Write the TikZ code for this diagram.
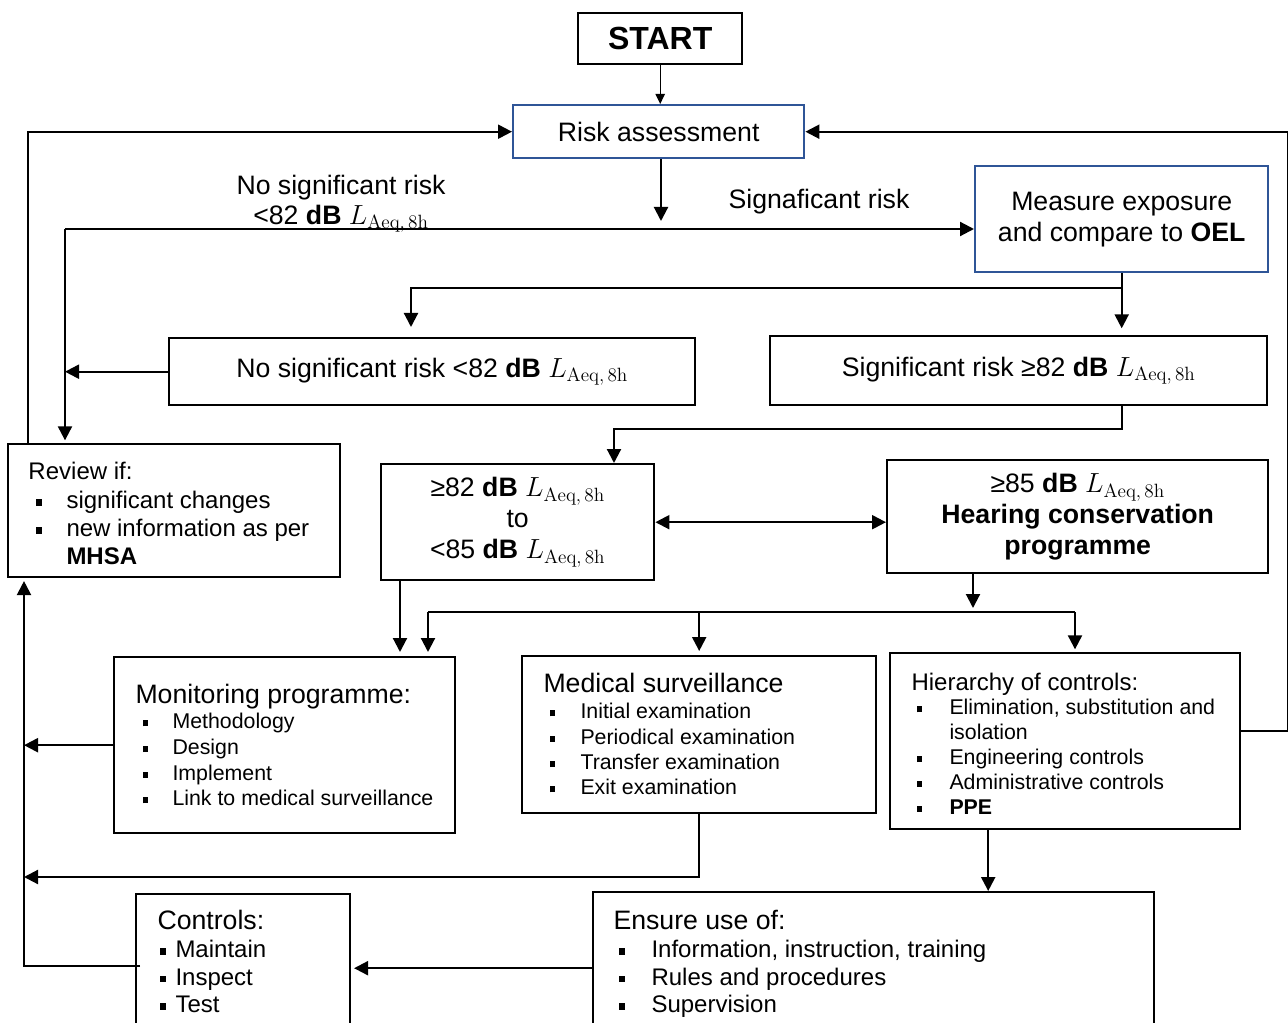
\documentclass[tikz,border=0pt]{standalone}
\usepackage[no-math]{fontspec}
\setmainfont{Liberation Sans}
\usetikzlibrary{arrows.meta}
\definecolor{riskblue}{RGB}{47,85,151}
\newcommand{\laeq}{$L_{\mathrm{Aeq,\,8h}}$}
\newcommand{\sqb}{\raisebox{0.12em}{\rule{0.28em}{0.28em}}}
\newcommand{\itm}[1][23pt]{\makebox[#1][l]{\sqb}}
\newcommand{\fs}[2]{\fontsize{#1}{#2}\selectfont}
\tikzset{every picture/.style={line width=0.75pt}}
\tikzset{
  box/.style={draw, line width=1.8pt, inner sep=0pt, anchor=north west, align=center},
  bluebox/.style={box, draw=riskblue},
  arr/.style={-{Triangle[length=10.5pt,width=10.5pt]}, line width=1.6pt},
  darr/.style={{Triangle[length=10.5pt,width=10.5pt]}-{Triangle[length=10.5pt,width=10.5pt]}, line width=1.6pt},
  txt/.style={inner sep=0pt, align=left, anchor=north west},
  ttl/.style={inner sep=0pt, anchor=base west},
}

\begin{document}
\begin{tikzpicture}[x=0.75pt,y=0.75pt,yscale=-1,xscale=1]
    \useasboundingbox (0,0) rectangle (1288,1023);
    % Boxes
    \node[box, minimum width=123pt, minimum height=38.25pt, font=\fs{24}{28}\bfseries] (start) at (577,12) {START};
    \node[bluebox, minimum width=218.25pt, minimum height=39.75pt, font=\fs{20}{23.25}] (risk) at (512,104) {Risk assessment};
    \node[bluebox, minimum width=219.75pt, minimum height=79.5pt, font=\fs{20}{23.25}] (measure) at (974,165) {Measure exposure\\and compare to \textbf{OEL}};
    \node[box, minimum width=394.5pt, minimum height=50.25pt, font=\fs{20}{23.25}] (nosig) at (168,337) {No significant risk <82 \textbf{dB} \laeq};
    \node[box, minimum width=372.75pt, minimum height=51.75pt, font=\fs{20}{23.25}] (sig) at (769,335) {Significant risk ≥82 \textbf{dB} \laeq};
    \node[box, minimum width=249pt, minimum height=99.75pt] (review) at (7,443) {};
    \node[box, minimum width=204.75pt, minimum height=87pt, font=\fs{20}{23.25}] (mid) at (380,463) {≥82 \textbf{dB} \laeq\\to\\<85 \textbf{dB} \laeq};
    \node[box, minimum width=285.75pt, minimum height=84.75pt, font=\fs{20}{23}] (hcp) at (886,459) {≥85 \textbf{dB} \laeq\\\textbf{Hearing conservation}\\\textbf{programme}};
    \node[box, minimum width=255.75pt, minimum height=132pt] (monit) at (113,656) {};
    \node[box, minimum width=265.5pt, minimum height=117.75pt] (medic) at (521,655) {};
    \node[box, minimum width=262.5pt, minimum height=132pt] (hier) at (889,652) {};
    \node[box, minimum width=420.75pt, minimum height=114pt] (ensure) at (592,891) {};
    \node[box, minimum width=160.5pt, minimum height=108pt] (ctrl) at (135,893) {};
    % Labels
    \node[align=center, inner sep=0pt, font=\fs{20}{22.5}] (lblno) at (341,204) {No significant risk\\<82 \textbf{dB} \laeq};
    \node[inner sep=0pt, font=\fs{20}{23.25}] (lblsig) at (819,202) {Signaficant risk};
    % Box texts
    \node[ttl, font=\fs{18}{21}] (revtitle) at (28,479) {Review if:};
    \node[txt, font=\fs{18}{21}] (revlist) at (35,491) {\itm[23.25pt]significant changes\\\itm[23.25pt]new information as per\\\hspace*{23.25pt}\textbf{MHSA}};
    \node[ttl, font=\fs{20}{23}] (montitle) at (135,703) {Monitoring programme:};
    \node[txt, font=\fs{16}{19.25}] (monlist) at (142,713) {\itm[22.5pt]Methodology\\\itm[22.5pt]Design\\\itm[22.5pt]Implement\\\itm[22.5pt]Link to medical surveillance};
    \node[ttl, font=\fs{20}{23}] (medtitle) at (543,692) {Medical surveillance};
    \node[txt, font=\fs{16}{19}] (medlist) at (549,703) {\itm[23.25pt]Initial examination\\\itm[23.25pt]Periodical examination\\\itm[23.25pt]Transfer examination\\\itm[23.25pt]Exit examination};
    \node[ttl, font=\fs{18}{21}] (hiertitle) at (911,690) {Hierarchy of controls:};
    \node[txt, font=\fs{16}{18.6}] (hierlist) at (916,699) {\itm[24.75pt]Elimination, substitution and\\\hspace*{24.75pt}isolation\\\itm[24.75pt]Engineering controls\\\itm[24.75pt]Administrative controls\\\itm[24.75pt]\textbf{PPE}};
    \node[ttl, font=\fs{20}{23}] (enstitle) at (613,929) {Ensure use of:};
    \node[txt, font=\fs{18}{20.6}] (enslist) at (618,940) {\itm[24.75pt]Information, instruction, training\\\itm[24.75pt]Rules and procedures\\\itm[24.75pt]Supervision};
    \node[ttl, font=\fs{20}{23}] (ctrltitle) at (157,929) {Controls:};
    \node[txt, font=\fs{18}{20.6}] (ctrllist) at (159,940) {\itm[12pt]Maintain\\\itm[12pt]Inspect\\\itm[12pt]Test};
    % Connections
    \coordinate (fork) at (661,229);
    \coordinate (nsplit) at (65,229);
    \coordinate (mbranch) at (411,288);
    \coordinate (sbend) at (614,429);
    \coordinate (dl) at (428,612);
    \coordinate (dr) at (1075,612);
    \coordinate (dist) at (973,612);
    \coordinate (lcol) at (24,877);
    \coordinate (mdown) at ([xshift=15pt]mid.south west);
    \coordinate (hdown) at ([xshift=-57.75pt]hier.south);
    \draw[-{Triangle[length=7.5pt,width=7pt]}, line width=0.9pt] (start.south) -- (start.south |- risk.north);
    \draw[arr] ([xshift=15.75pt]review.north west) |- (risk.west);
    \draw[arr] ([yshift=-7.5pt]hier.east) -- ++(47,0) |- (risk.east);
    \draw[arr, shorten >=6pt] (risk.south -| fork) -- (fork);
    \draw[arr] (nsplit) -- (nsplit -| measure.west);
    \draw[arr, shorten >=2pt] (nsplit) -- (nsplit |- review.north);
    \draw[arr] (nosig.west) -- (nosig.west -| nsplit);
    \draw[arr, shorten >=5pt] (measure.south) -- (measure.south |- sig.north);
    \draw[arr, shorten >=7.5pt] (measure.south |- mbranch) -| (mbranch |- nosig.north);
    \draw[arr] (measure.south |- sig.south) |- (sbend) -- (sbend |- mid.north);
    \draw[darr] (mid.east) -- (mid.east -| hcp.west);
    \draw[arr, shorten >=3pt] (hcp.south -| dist) -- (dist);
    \draw[line width=1.6pt] (dl) -- (dr);
    \draw[arr, shorten >=3pt] (dl) -- (dl |- monit.north);
    \draw[arr, shorten >=3pt] (dl -| medic.north) -- (medic.north);
    \draw[arr, shorten >=2pt] (dr) -- (dr |- hier.north);
    \draw[arr, shorten >=3pt] (mdown) -- (mdown |- monit.north);
    \draw[arr, shorten >=2pt] ([xshift=3.75pt]ctrl.west) -| (lcol |- review.south);
    \draw[arr] (monit.west) -- (monit.west -| lcol);
    \draw[arr] (medic.south) |- (lcol);
    \draw[arr] (hdown) -- (hdown |- ensure.north);
    \draw[arr, shorten >=2pt] (ensure.west) -- (ensure.west -| ctrl.east);
\end{tikzpicture}
\end{document}
